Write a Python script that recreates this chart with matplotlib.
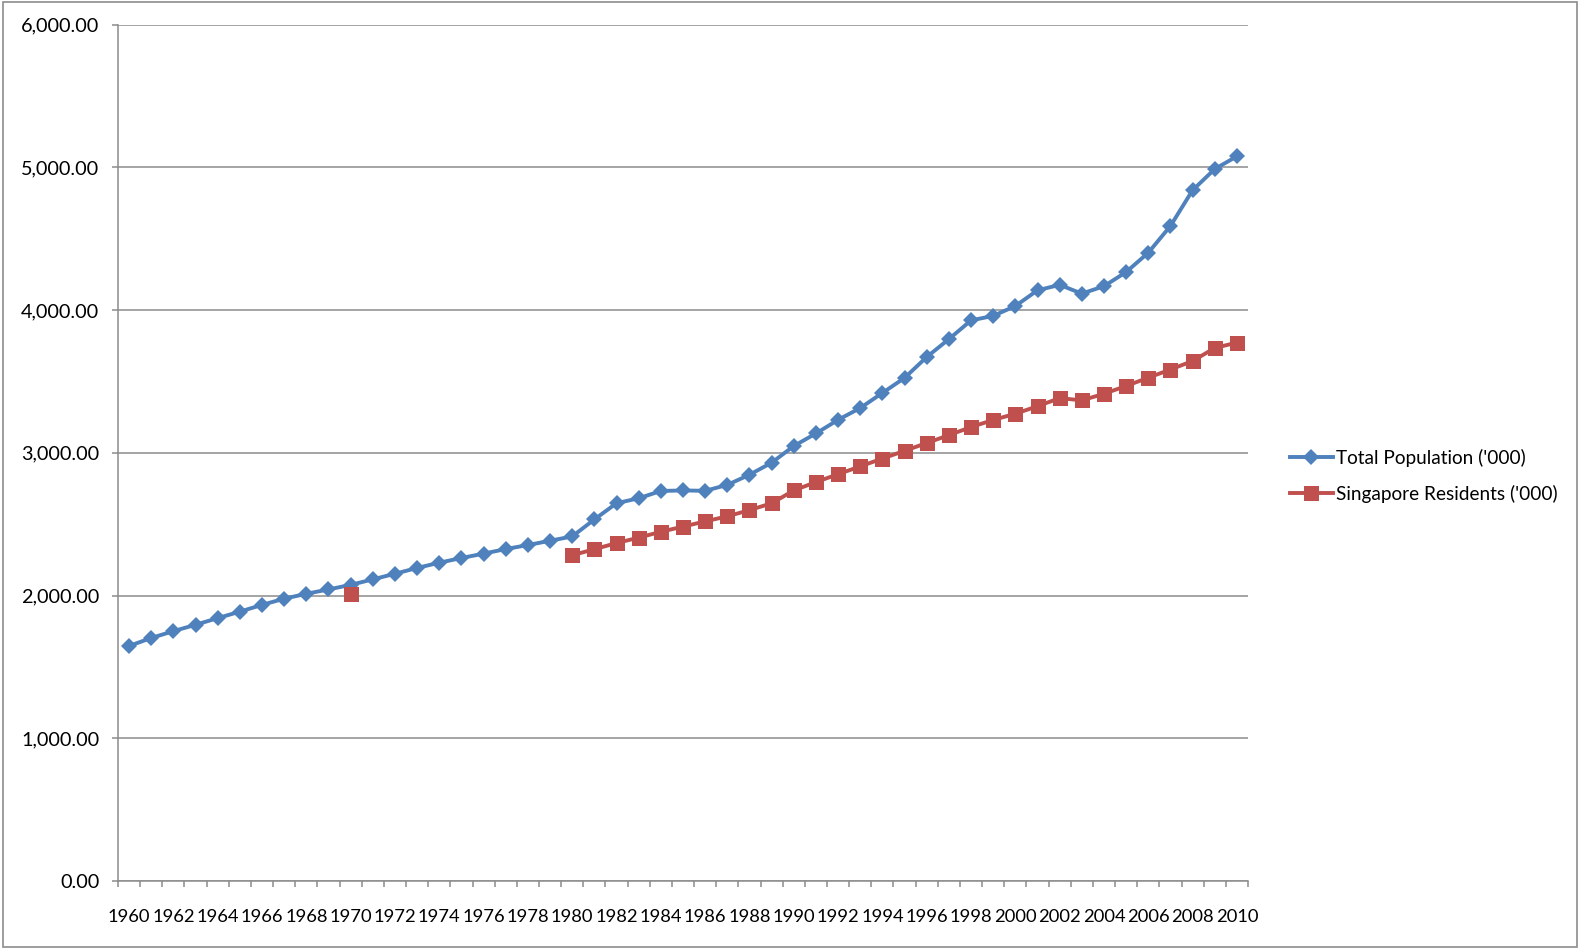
import numpy as np
import matplotlib
matplotlib.use('Agg')
from matplotlib import pyplot as plt
from matplotlib.patches import Rectangle

# years on the category axis
years = list(range(1960, 2011))

# Total Population ('000)
total_pop = [1646.4, 1702.4, 1750.2, 1795.0, 1841.6, 1886.9, 1934.4, 1977.6, 2012.0, 2042.5,
             2074.5, 2112.9, 2152.4, 2193.0, 2229.8, 2262.6, 2293.3, 2325.3, 2353.6, 2383.5,
             2413.9, 2532.8, 2646.5, 2681.1, 2732.2, 2736.0, 2733.4, 2774.8, 2846.1, 2930.2,
             3047.1, 3135.1, 3230.7, 3313.5, 3419.0, 3524.5, 3670.7, 3796.0, 3927.2, 3958.7,
             4027.9, 4138.0, 4176.0, 4114.8, 4166.7, 4265.8, 4401.4, 4588.6, 4839.4, 4987.6,
             5076.7]

# Singapore Residents ('000), only 1970 and 1980 onward
residents = [np.nan] * 10 + [2013.6] + [np.nan] * 9 + [
             2282.1, 2324.3, 2367.3, 2405.3, 2446.4, 2482.6, 2519.2, 2554.6, 2598.0, 2646.0,
             2735.9, 2794.7, 2849.8, 2904.5, 2959.5, 3013.5, 3068.1, 3123.4, 3180.0, 3229.7,
             3273.4, 3325.9, 3382.9, 3366.9, 3413.3, 3467.8, 3525.9, 3583.1, 3642.7, 3733.9,
             3771.7]

plt.rcParams['font.family'] = ['Lato', 'DejaVu Sans']
plt.rcParams['font.size'] = 13.7

blue = '#4F81BD'
red = '#C0504D'
grey = '#8C8C8C'

fig = plt.figure(figsize=(15.8, 9.49), dpi=100)
ax = fig.add_axes([118 / 1580, 1 - 881 / 949, 1130 / 1580, (881 - 24.5) / 949])

x = np.arange(len(years))
ax.plot(x, total_pop, '-', color=blue, lw=2.8, marker='D', ms=8.6, mec=blue, mew=0,
        label="Total Population ('000)")
ax.plot(x, residents, '-', color=red, lw=2.8, marker='s', ms=10.8, mec=red, mew=0,
        label="Singapore Residents ('000)")

ax.set_xlim(-0.5, len(years) - 0.5)
ax.set_ylim(0, 6000)
ax.set_yticks(np.arange(0, 6001, 1000))
ax.set_yticklabels(['{:,.2f}'.format(v) for v in np.arange(0, 6001, 1000)], fontsize=14.3)
ax.yaxis.grid(True, color=grey, lw=1.1)
ax.set_axisbelow(True)

# ticks between categories, labels every second year
ax.set_xticks(np.arange(-0.5, len(years), 1))
ax.set_xticklabels([])
ax.set_xticks(x[::2], minor=True)
ax.set_xticklabels([str(y) for y in years[::2]], minor=True, fontsize=13.2)
ax.tick_params(axis='x', which='major', length=4.5, width=1.1, color=grey, direction='out')
ax.tick_params(axis='x', which='minor', length=0, pad=20)
ax.tick_params(axis='y', length=4.5, width=1.1, color=grey, pad=9)

for s in ['top', 'right']:
    ax.spines[s].set_visible(False)
for s in ['left', 'bottom']:
    ax.spines[s].set_color(grey)
    ax.spines[s].set_linewidth(1.1)

leg = ax.legend(loc='center left', bbox_to_anchor=(1290 / 1580, 1 - 476 / 949),
                bbox_transform=fig.transFigure, frameon=False, borderpad=0, borderaxespad=0,
                handlelength=2.25, handletextpad=0.15, labelspacing=0.95)

# outer border of the chart
fig.patches.append(Rectangle((0.002, 0.002), 0.996, 0.996, transform=fig.transFigure,
                             fill=False, edgecolor=grey, lw=1.2))

plt.savefig('out.png', dpi=100)
